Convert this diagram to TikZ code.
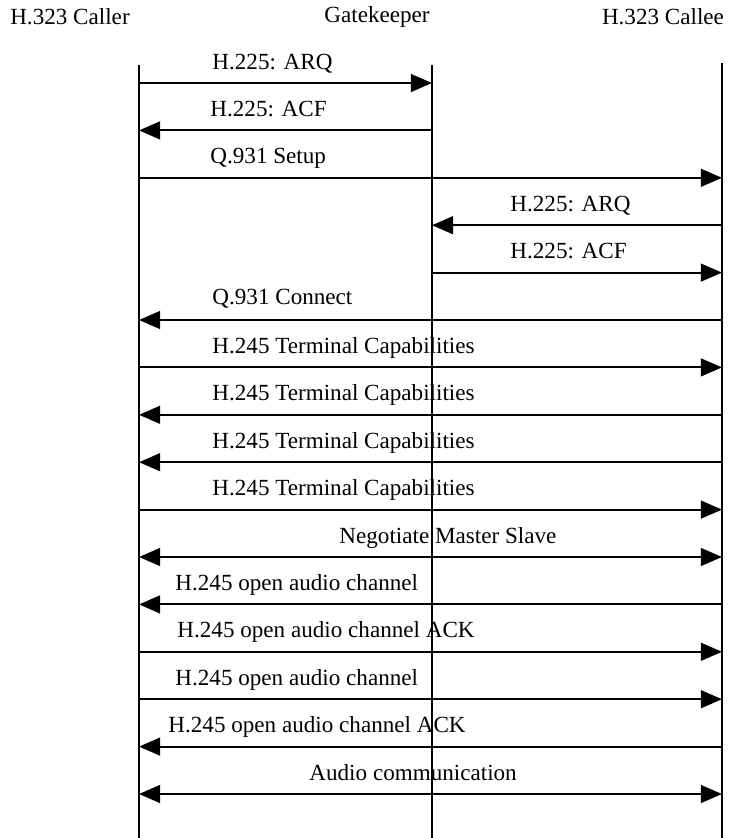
\documentclass[tikz,border=0pt]{standalone}
\usepackage{fontspec}
\setmainfont{Liberation Serif}
\usetikzlibrary{arrows.meta}
\tikzset{
  >={Triangle[length=9.5pt,width=8pt]},
  lifeline/.style={line width=1.1pt},
  msg/.style={->,line width=0.9pt},
  twoway/.style={<->,line width=0.9pt},
  actor/.style={font=\fontsize{10.4}{12}\selectfont,inner sep=0pt},
  lbl/.style={font=\fontsize{10.4}{12}\selectfont,inner sep=0pt,anchor=base west},
}
\begin{document}
\begin{tikzpicture}[x=0.45pt,y=-0.45pt]
  \useasboundingbox (0,0) rectangle (732,838);
  % actors
  \node[actor] (caller) at (70,17) {H.323 Caller};
  \node[actor] (gk) at (377,17) {Gatekeeper};
  \node[actor] (callee) at (663,17) {H.323 Callee};
  % lifelines
  \coordinate (ct) at (139,65);  \coordinate (cb) at (139,838);
  \coordinate (gt) at (432,65);  \coordinate (gb) at (432,838);
  \coordinate (et) at (722,63);  \coordinate (eb) at (722,838);
  \draw[lifeline] (ct) -- (cb);
  \draw[lifeline] (gt) -- (gb);
  \draw[lifeline] (et) -- (eb);
  % message rows
  \foreach \i in {0,...,15} \coordinate (r\i) at (0,{83+47.4*\i});

  \draw[msg] (ct |- r0) -- (gt |- r0);
  \node[lbl] (t0) at (212,69) {H.225: ARQ};
  \draw[msg] (gt |- r1) -- (ct |- r1);
  \node[lbl] (t1) at (210,116.4) {H.225: ACF};
  \draw[msg] (ct |- r2) -- (et |- r2);
  \node[lbl] (t2) at (210,163.8) {Q.931 Setup};
  \draw[msg] (et |- r3) -- (gt |- r3);
  \node[lbl] (t3) at (510,211.2) {H.225: ARQ};
  \draw[msg] (gt |- r4) -- (et |- r4);
  \node[lbl] (t4) at (510,258.6) {H.225: ACF};
  \draw[msg] (et |- r5) -- (ct |- r5);
  \node[lbl] (t5) at (212,304) {Q.931 Connect};
  \draw[msg] (ct |- r6) -- (et |- r6);
  \node[lbl] (t6) at (212,353.4) {H.245 Terminal Capabilities};
  \draw[msg] (et |- r7) -- (ct |- r7);
  \node[lbl] (t7) at (212,400.8) {H.245 Terminal Capabilities};
  \draw[msg] (et |- r8) -- (ct |- r8);
  \node[lbl] (t8) at (212,448.2) {H.245 Terminal Capabilities};
  \draw[msg] (ct |- r9) -- (et |- r9);
  \node[lbl] (t9) at (212,495.6) {H.245 Terminal Capabilities};
  \draw[twoway] (ct |- r10) -- (et |- r10);
  \node[lbl] (t10) at (339,543) {Negotiate Master Slave};
  \draw[msg] (et |- r11) -- (ct |- r11);
  \node[lbl] (t11) at (175,590.4) {H.245 open audio channel};
  \draw[msg] (ct |- r12) -- (et |- r12);
  \node[lbl] (t12) at (177,637.8) {H.245 open audio channel ACK};
  \draw[msg] (ct |- r13) -- (et |- r13);
  \node[lbl] (t13) at (175,685.2) {H.245 open audio channel};
  \draw[msg] (et |- r14) -- (ct |- r14);
  \node[lbl] (t14) at (168,732.6) {H.245 open audio channel ACK};
  \draw[twoway] (ct |- r15) -- (et |- r15);
  \node[lbl] (t15) at (309,780) {Audio communication};
\end{tikzpicture}
\end{document}
